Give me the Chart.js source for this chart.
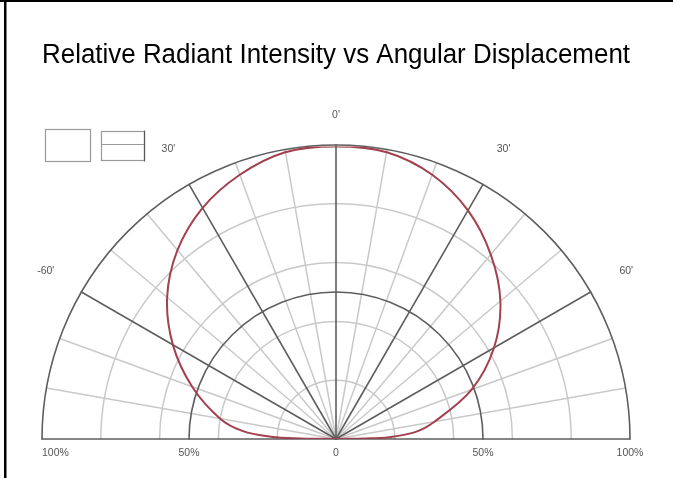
<!DOCTYPE html>
<html>
<head>
<meta charset="utf-8">
<script src="https://cdn.jsdelivr.net/npm/chart.js@4.4.1/dist/chart.umd.min.js"></script>
<style>
  body { margin: 0; background: #fff; }
  #wrap { position: relative; width: 673px; height: 478px; }
</style>
</head>
<body>
<div id="wrap"><canvas id="polarChart"></canvas></div>
<script>
// angle in degrees from the 0' axis (negative = left), intensity in percent
const angles    = [-90, -89, -88, -85, -80, -70, -60, -50, -40, -30, -20, -10, 0, 10, 20, 30, 40, 50, 60, 70, 80, 85, 88, 89, 90];
const intensity = [0, 12, 22, 32, 40, 52, 64, 75, 84, 91, 96, 99.5, 100, 99.5, 96, 90, 82, 73, 62, 49, 34, 27, 18, 10, 0];

// grid
const ringValues = [20, 40, 60, 80];
const darkRings = [50, 100];
const spokeAngles = [-80, -70, -50, -40, -20, -10, 10, 20, 40, 50, 70, 80];
const darkSpokes = [-60, -30, 0, 30, 60];

// tick labels
const angleTickValues = [-60, -30, 0, 30, 60];
const angleTickLabels = ["-60'", "30'", "0'", "30'", "60'"];
const radiusTickValues = [-100, -50, 0, 50, 100];
const radiusTickLabels = ["100%", "50%", "0", "50%", "100%"];

const rad = d => d * Math.PI / 180;
const curve = angles.map((a, i) => ({ x: intensity[i] * Math.sin(rad(a)), y: intensity[i] * Math.cos(rad(a)) }));

const polarGrid = {
    id: "polarGrid",
    beforeDatasetsDraw(chart) {
        const { ctx, scales: { x, y } } = chart;
        const cx = x.getPixelForValue(0), cy = y.getPixelForValue(0);
        const k = x.getPixelForValue(100) - cx;
        const unit = k / 100;

        ctx.save();
        ctx.lineCap = "round";

        function ring(v) {
            ctx.beginPath();
            ctx.arc(cx, cy, v * unit, Math.PI, 2 * Math.PI);
            ctx.stroke();
        }
        function spoke(a) {
            ctx.beginPath();
            ctx.moveTo(cx, cy);
            ctx.lineTo(cx + k * Math.sin(rad(a)), cy - k * Math.cos(rad(a)));
            ctx.stroke();
        }

        ctx.strokeStyle = "#c9c9c9";
        ctx.lineWidth = 1.5;
        ringValues.forEach(ring);
        spokeAngles.forEach(spoke);

        ctx.strokeStyle = "#5e5e5e";
        ctx.lineWidth = 1.6;
        darkRings.forEach(ring);
        darkSpokes.forEach(spoke);
        ctx.beginPath();
        ctx.moveTo(cx - k, cy);
        ctx.lineTo(cx + k, cy);
        ctx.stroke();

        // labels
        ctx.fillStyle = "#555";
        ctx.font = "10.5px 'Liberation Sans', Arial, sans-serif";
        ctx.textBaseline = "middle";
        angleTickValues.forEach((a, i) => {
            const r = (a === 0 ? 110 : 114) * unit;
            ctx.textAlign = "center";
            ctx.fillText(angleTickLabels[i], cx + r * Math.sin(rad(a)), cy - r * Math.cos(rad(a)));
        });
        radiusTickValues.forEach((v, i) => {
            const px = x.getPixelForValue(v);
            ctx.textAlign = v === -100 ? "left" : "center";
            ctx.fillText(radiusTickLabels[i], px, cy + 14);
        });

        // legend boxes
        ctx.strokeStyle = "#9a9a9a";
        ctx.lineWidth = 1.2;
        ctx.strokeRect(45.5, 129.5, 45, 32);
        ctx.strokeRect(101.5, 131.5, 43, 29);
        ctx.beginPath();
        ctx.moveTo(101.5, 144.5);
        ctx.lineTo(144.5, 144.5);
        ctx.stroke();
        ctx.strokeStyle = "#555";
        ctx.beginPath();
        ctx.moveTo(144.5, 131);
        ctx.lineTo(144.5, 161);
        ctx.stroke();
        ctx.restore();
    },
    afterDraw(chart) {
        const ctx = chart.ctx;
        ctx.save();
        ctx.fillStyle = "#000";
        ctx.fillRect(0, 0, chart.width, 2);
        ctx.fillRect(4, 0, 2.5, chart.height);
        ctx.restore();
    }
};

new Chart(document.getElementById("polarChart"), {
    type: "scatter",
    data: {
        datasets: [{
            data: curve,
            showLine: true,
            tension: 0.35,
            borderColor: "#a3404e",
            borderWidth: 2,
            pointRadius: 0
        }]
    },
    options: {
        responsive: true,
        maintainAspectRatio: false,
        animation: false,
        layout: { padding: { left: 42, right: 43, top: 0, bottom: 39 } },
        scales: {
            x: { type: "linear", min: -100, max: 100, display: false },
            y: { type: "linear", min: 0, max: 100, display: false }
        },
        plugins: {
            legend: { display: false },
            tooltip: { enabled: false },
            title: {
                display: true,
                text: "Relative Radiant Intensity vs Angular Displacement",
                color: "#000",
                font: { family: "'Liberation Sans', Arial, sans-serif", size: 27, weight: "normal" },
                padding: { top: 39, bottom: 75 }
            }
        }
    },
    plugins: [polarGrid]
});
</script>
</body>
</html>
